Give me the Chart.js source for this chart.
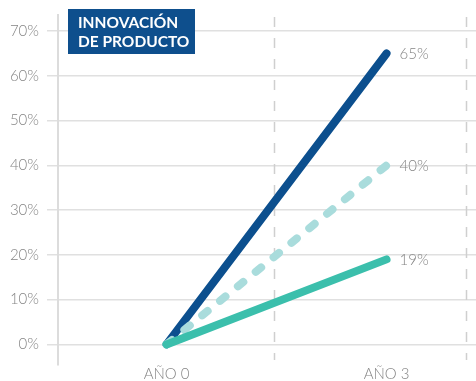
<!DOCTYPE html>
<html>
<head>
<meta charset="utf-8">
<script src="https://cdn.jsdelivr.net/npm/chart.js@4/dist/chart.umd.min.js"></script>
<style>
  html, body { margin: 0; padding: 0; background: #fff; }
  canvas { display: block; }
</style>
</head>
<body>
<canvas id="chart" width="476" height="381"></canvas>
<script>
// Years on the horizontal axis and where they sit on it
const years = ['AÑO 0', 'AÑO 3'];
const yearPos = [0, 3];

// Growth (%) for each series
const highValues = [0, 65];
const midValues = [0, 40];
const lowValues = [0, 19];

// Percentage ticks on the vertical axis
const yTicks = [0, 10, 20, 30, 40, 50, 60, 70];

// Heading lines
const heading = ['INNOVACIÓN', 'DE PRODUCTO'];

const FONT = 'Lato, "Open Sans", "DejaVu Sans", sans-serif';
const GREY_TEXT = '#858585';

const toPoints = vals => yearPos.map((x, i) => ({ x: x, y: vals[i] }));

// Dashed vertical guides behind the lines
const guidePlugin = {
  id: 'guides',
  beforeDatasetsDraw(chart) {
    const { ctx, chartArea, scales } = chart;
    ctx.save();
    ctx.strokeStyle = '#cfcfcf';
    ctx.lineWidth = 1.5;
    ctx.setLineDash([10, 11]);
    [1.47, 4.09].forEach(v => {
      const x = Math.round(scales.x.getPixelForValue(v)) + 0.5;
      ctx.beginPath();
      ctx.moveTo(x, chartArea.top + 2);
      ctx.lineTo(x, chartArea.bottom - 5);
      ctx.stroke();
    });
    ctx.restore();
  }
};

// Value label at the end of each line
const endLabelPlugin = {
  id: 'endLabels',
  afterDatasetsDraw(chart) {
    const { ctx } = chart;
    ctx.save();
    ctx.font = '300 15px ' + FONT;
    ctx.fillStyle = GREY_TEXT;
    ctx.textAlign = 'left';
    ctx.textBaseline = 'middle';
    chart.data.datasets.forEach((ds, i) => {
      const meta = chart.getDatasetMeta(i);
      const last = meta.data[meta.data.length - 1];
      const value = ds.data[ds.data.length - 1].y;
      ctx.fillText(value + '%', last.x + 13, last.y + 1);
    });
    ctx.restore();
  }
};

// Heading block in the top-left corner
const headingPlugin = {
  id: 'heading',
  afterDraw(chart) {
    const { ctx } = chart;
    ctx.save();
    ctx.fillStyle = '#0e4f8d';
    ctx.fillRect(68, 9, 127, 45);
    ctx.fillStyle = '#ffffff';
    ctx.font = 'bold 15.5px ' + FONT;
    ctx.textAlign = 'left';
    ctx.textBaseline = 'alphabetic';
    heading.forEach((line, i) => ctx.fillText(line, 78, 27.5 + i * 19.2));
    ctx.restore();
  }
};

new Chart(document.getElementById('chart'), {
  type: 'line',
  data: {
    datasets: [
      {
        label: 'bajo',
        data: toPoints(lowValues),
        borderColor: '#3bbfac',
        borderWidth: 8,
        borderCapStyle: 'round',
        borderJoinStyle: 'round'
      },
      {
        label: 'medio',
        data: toPoints(midValues),
        borderColor: '#a9dcdc',
        borderWidth: 8,
        borderDash: [7, 16],
        borderCapStyle: 'round',
        borderJoinStyle: 'round'
      },
      {
        label: 'alto',
        data: toPoints(highValues),
        borderColor: '#0c4f8e',
        borderWidth: 8,
        borderCapStyle: 'round',
        borderJoinStyle: 'round'
      }
    ]
  },
  options: {
    responsive: false,
    animation: false,
    events: [],
    clip: false,
    layout: { padding: { top: 15, right: 0, bottom: 0, left: 0 } },
    elements: { point: { radius: 0 }, line: { tension: 0, fill: false } },
    plugins: { legend: { display: false }, tooltip: { enabled: false } },
    scales: {
      x: {
        type: 'linear',
        min: -1.48,
        max: 4.22,
        afterBuildTicks: s => { s.ticks = yearPos.map(v => ({ value: v })); },
        afterFit: s => { s.height = 16; s.paddingLeft = 0; s.paddingRight = 0; },
        grid: { display: false },
        border: { display: false },
        ticks: {
          autoSkip: false,
          maxRotation: 0,
          padding: -8,
          color: GREY_TEXT,
          font: { family: FONT, size: 15, weight: 300 },
          callback: v => years[yearPos.indexOf(v)]
        }
      },
      y: {
        type: 'linear',
        min: -4.6,
        max: 73.6,
        afterBuildTicks: s => { s.ticks = yTicks.map(v => ({ value: v })); },
        afterFit: s => { s.width = 58; s.paddingTop = 0; s.paddingBottom = 0; },
        grid: {
          color: '#e0e0e0',
          lineWidth: 1.5,
          drawTicks: true,
          tickLength: 11,
          tickColor: '#e0e0e0'
        },
        border: { display: true, color: '#dcdcdc', width: 2 },
        ticks: {
          padding: 8,
          color: GREY_TEXT,
          font: { family: FONT, size: 15, weight: 300 },
          callback: v => v + '%'
        }
      }
    }
  },
  plugins: [guidePlugin, endLabelPlugin, headingPlugin]
});
</script>
</body>
</html>
